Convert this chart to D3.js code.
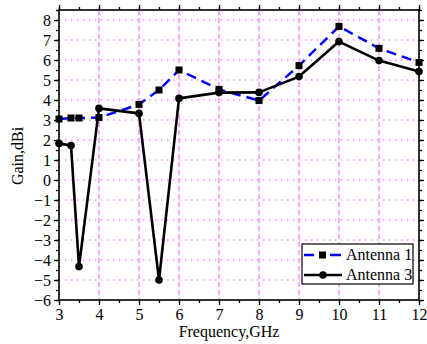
<!DOCTYPE html>
<html><head><meta charset="utf-8">
<script src="https://cdn.jsdelivr.net/npm/d3@7"></script>
<style>body{margin:0;background:#fff}svg{display:block}text{font-family:"Liberation Serif","Times New Roman",serif;fill:#000}</style>
</head><body>
<script>
const freqA1 = [3, 3.3, 3.5, 4, 5, 5.5, 6, 7, 8, 9, 10, 11, 12];
const gainA1 = [3.05, 3.1, 3.1, 3.12, 3.78, 4.5, 5.5, 4.53, 3.97, 5.72, 7.68, 6.58, 5.88];
const freqA3 = [3, 3.3, 3.5, 4, 5, 5.5, 6, 7, 8, 9, 10, 11, 12];
const gainA3 = [1.83, 1.72, -4.33, 3.58, 3.33, -5.0, 4.08, 4.37, 4.38, 5.17, 6.92, 5.97, 5.42];
const xTicks = [3,4,5,6,7,8,9,10,11,12];
const yTicks = [-6,-5,-4,-3,-2,-1,0,1,2,3,4,5,6,7,8];
const seriesNames = ["Antenna 1", "Antenna 3"];

const W = 427, H = 344;
const L = 59, R = 419, T = 10, B = 300;
const FONT = '"Liberation Serif","Times New Roman",serif';
const svg = d3.select("body").append("svg").attr("width", W).attr("height", H);
const x = d3.scaleLinear().domain([3, 12]).range([L, R]);
const y = d3.scaleLinear().domain([-6, 8.5]).range([B, T]);
const grid = "#ff8cff";

// grid
svg.append("g").selectAll("line").data(xTicks.filter(d => d > 3 && d < 12)).join("line")
  .attr("x1", d => x(d)).attr("x2", d => x(d)).attr("y1", T).attr("y2", B)
  .attr("stroke", grid).attr("stroke-width", 1.5).attr("stroke-dasharray", "5,3");
svg.append("g").selectAll("line").data(yTicks.filter(d => d > -6)).join("line")
  .attr("x1", L).attr("x2", R).attr("y1", d => y(d)).attr("y2", d => y(d))
  .attr("stroke", grid).attr("stroke-width", 1.5).attr("stroke-dasharray", "1.5,4.5");

// axes
const xMinor = d3.range(3, 12.01, 0.5);
const yMinor = d3.range(-6, 8.51, 0.5);
function style(gg) {
  gg.attr("font-family", FONT);
  gg.selectAll("path").remove();
  gg.selectAll("line").attr("stroke", "#000").attr("stroke-width", 1.3);
  gg.selectAll("text").attr("font-size", 16).attr("fill", "#000").attr("font-family", FONT);
}
function axisX(pos, dir, labels) {
  const mk = dir > 0 ? d3.axisBottom : d3.axisTop;
  const g = svg.append("g").attr("transform", `translate(0,${pos})`)
    .call(mk(x).tickValues(xMinor).tickSize(3).tickFormat(""));
  const g2 = svg.append("g").attr("transform", `translate(0,${pos})`)
    .call(mk(x).tickValues(xTicks).tickSize(5).tickPadding(4).tickFormat(labels ? d3.format("d") : ""));
  style(g); style(g2);
}
function axisY(pos, dir, labels) {
  const mk = dir < 0 ? d3.axisLeft : d3.axisRight;
  const g = svg.append("g").attr("transform", `translate(${pos},0)`)
    .call(mk(y).tickValues(yMinor).tickSize(3).tickFormat(""));
  const g2 = svg.append("g").attr("transform", `translate(${pos},0)`)
    .call(mk(y).tickValues(yTicks).tickSize(5).tickPadding(3).tickFormat(labels ? d3.format("d") : ""));
  style(g); style(g2);
}
axisX(B, 1, true);
axisX(T, -1, false);
axisY(L, -1, true);
axisY(R, 1, false);
svg.append("rect").attr("x", L).attr("y", T).attr("width", R - L).attr("height", B - T)
  .attr("fill", "none").attr("stroke", "#000").attr("stroke-width", 1.6);

// series
const line = d3.line().x(d => x(d[0])).y(d => y(d[1]));
const a1 = freqA1.map((f, i) => [f, gainA1[i]]);
const a3 = freqA3.map((f, i) => [f, gainA3[i]]);
svg.append("path").datum(a1).attr("d", line).attr("fill", "none")
  .attr("stroke", "#0000ff").attr("stroke-width", 2.5).attr("stroke-dasharray", "10,6");
svg.append("g").selectAll("rect").data(a1).join("rect")
  .attr("x", d => x(d[0]) - 3.5).attr("y", d => y(d[1]) - 3.5)
  .attr("width", 7).attr("height", 7).attr("fill", "#000");
svg.append("path").datum(a3).attr("d", line).attr("fill", "none")
  .attr("stroke", "#000").attr("stroke-width", 2.6).attr("stroke-linejoin", "round");
svg.append("g").selectAll("circle").data(a3).join("circle")
  .attr("cx", d => x(d[0])).attr("cy", d => y(d[1])).attr("r", 3.8).attr("fill", "#000");

// legend
const lg = svg.append("g");
lg.append("rect").attr("x", 302).attr("y", 244).attr("width", 111).attr("height", 40)
  .attr("fill", "#fff").attr("stroke", "#000").attr("stroke-width", 1.2);
[0, 1].forEach(i => {
  const yy = 255 + i * 20;
  if (i === 0) {
    lg.append("line").attr("x1", 304).attr("x2", 314).attr("y1", yy).attr("y2", yy)
      .attr("stroke", "#0000ff").attr("stroke-width", 2.5);
    lg.append("line").attr("x1", 330).attr("x2", 341).attr("y1", yy).attr("y2", yy)
      .attr("stroke", "#0000ff").attr("stroke-width", 2.5);
    lg.append("rect").attr("x", 319).attr("y", yy - 3.5).attr("width", 7).attr("height", 7).attr("fill", "#000");
  } else {
    lg.append("line").attr("x1", 304).attr("x2", 342).attr("y1", yy).attr("y2", yy)
      .attr("stroke", "#000").attr("stroke-width", 2.6);
    lg.append("circle").attr("cx", 323).attr("cy", yy).attr("r", 3.8).attr("fill", "#000");
  }
  lg.append("text").attr("x", 346).attr("y", yy + 5).attr("font-size", 16).text(seriesNames[i]);
});

// titles
svg.append("text").attr("x", 229).attr("y", 337).attr("text-anchor", "middle")
  .attr("font-size", 16).text("Frequency,GHz");
svg.append("text").attr("transform", "translate(23,156) rotate(-90)").attr("text-anchor", "middle")
  .attr("font-size", 16).text("Gain,dBi");
</script>
</body></html>
